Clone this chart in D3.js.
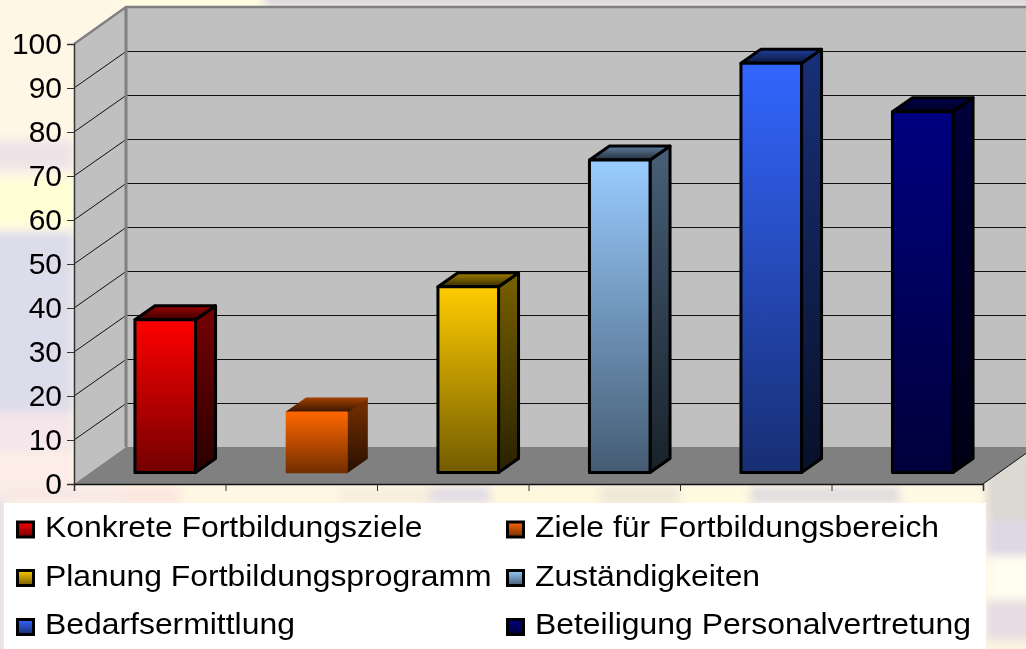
<!DOCTYPE html>
<html>
<head>
<meta charset="utf-8">
<title>Fortbildung</title>
<script src="https://cdnjs.cloudflare.com/ajax/libs/d3/7.8.5/d3.min.js"></script>
<style>
  html, body { margin: 0; padding: 0; background: #fff8e8; overflow: hidden; }
  svg { display: block; font-family: "Liberation Sans", Arial, sans-serif; filter: blur(0.4px); }
</style>
</head>
<body>
<svg id="chart" width="1026" height="649"></svg>
<script>
var categories = [
  "Konkrete Fortbildungsziele", "Ziele für Fortbildungsbereich",
  "Planung Fortbildungsprogramm", "Zuständigkeiten",
  "Bedarfsermittlung", "Beteiligung Personalvertretung"
];
var values = [34.7, 13.7, 42.2, 71, 93, 82];
var colors = ["#ff0000", "#ff6600", "#ffcc00", "#99ccff", "#3366ff", "#000080"];
var outlined = [true, false, true, true, true, true];
var yTicks = [0, 10, 20, 30, 40, 50, 60, 70, 80, 90, 100];

var svg = d3.select("#chart");
var defs = svg.append("defs");

// Plot box, front edge of the floor
var x0 = 74, x1 = 983, y0 = 484, y100 = 44;
var depthX = 52, depthY = -37;     // wall depth
var barDX = 20, barDY = -14;       // bar depth
var barInsetX = 15.5, barInsetY = -11.5;

var x = d3.scaleBand().domain(categories).range([x0, x1]).paddingInner(0.6).paddingOuter(0.3);
var xEdges = d3.scaleLinear().domain([0, categories.length]).range([x0, x1]);
var y = d3.scaleLinear().domain([0, 100]).range([y0, y100]);

/************************************************************************
  Background: the slide behind the chart is a blurry pastel picture, only
  seen around the plot. Rough patches, blurred together.
************************************************************************/
var bgPatches = [
  [-20, -20, 1066, 689, "#fff6e6"],
  [-20, -20, 150, 150, "#fff7e6"],
  [120, -20, 140, 28, "#fffde0"],
  [265, -20, 781, 28, "#dcd8e0"],
  [-20, 140, 94, 30, "#eee4e8"],
  [-20, 178, 94, 48, "#ffffd6"],
  [-20, 232, 94, 180, "#dcdcea"],
  [-20, 412, 94, 40, "#f4e6ea"],
  [-20, 452, 94, 50, "#fceee6"],
  [0, 487, 120, 16, "#f8e8e6"],
  [120, 487, 60, 16, "#fbe6e0"],
  [180, 487, 160, 16, "#fff6e2"],
  [340, 487, 90, 16, "#f8eedc"],
  [430, 487, 60, 16, "#e0dce6"],
  [490, 487, 110, 16, "#fff8dc"],
  [600, 487, 80, 16, "#ece6d4"],
  [680, 487, 70, 16, "#fdfce0"],
  [750, 487, 150, 16, "#e0dce0"],
  [900, 487, 86, 16, "#fdfce2"],
  [986, 450, 60, 70, "#dcd8d2"],
  [986, 520, 60, 36, "#dcd8e6"],
  [990, 556, 56, 44, "#fefff0"],
  [986, 600, 60, 40, "#e6dce2"],
  [986, 640, 60, 29, "#fbf4e0"],
  [-20, 500, 24, 169, "#e0dce8"]
];
defs.append("filter").attr("id", "soft")
  .attr("x", "-5%").attr("y", "-5%").attr("width", "110%").attr("height", "110%")
  .append("feGaussianBlur").attr("stdDeviation", 5);

svg.append("g").attr("filter", "url(#soft)")
  .selectAll("rect")
  .data(bgPatches)
  .enter().append("rect")
  .attr("x", function (d) { return d[0]; })
  .attr("y", function (d) { return d[1]; })
  .attr("width", function (d) { return d[2]; })
  .attr("height", function (d) { return d[3]; })
  .attr("fill", function (d) { return d[4]; });

// Walls and floor
var walls = svg.append("g");
function pts(list) {
  return list.map(function (p) { return p.join(","); }).join(" ");
}
walls.append("polygon")
  .attr("points", pts([[x0, y(100)], [x0 + depthX, y(100) + depthY], [x0 + depthX, y0 + depthY], [x0, y0]]))
  .attr("fill", "#c0c0c0");
walls.append("polygon")
  .attr("points", pts([[x0 + depthX, y(100) + depthY], [1026, y(100) + depthY], [1026, y0 + depthY], [x0 + depthX, y0 + depthY]]))
  .attr("fill", "#c0c0c0");
walls.append("polygon")
  .attr("points", pts([[x0, y0], [x1, y0], [x1 + depthX, y0 + depthY], [x0 + depthX, y0 + depthY]]))
  .attr("fill", "#808080");

// Grid lines run along the side wall, then across the back wall
var grid = yTicks.filter(function (d) { return d > 0 && d < 100; });
walls.selectAll("polyline.grid")
  .data(grid)
  .enter().append("polyline")
  .attr("class", "grid")
  .attr("fill", "none")
  .attr("stroke", "#111")
  .attr("stroke-width", 1)
  .attr("points", function (d) {
    return pts([[x0, y(d)], [x0 + depthX, y(d) + depthY + 0.5], [1026, y(d) + depthY + 0.5]]);
  });

// Wall edges in grey
walls.append("polyline")
  .attr("fill", "none")
  .attr("stroke", "#808080")
  .attr("stroke-width", 2.4)
  .attr("points", pts([[x0, y(100)], [x0 + depthX, y(100) + depthY], [1026, y(100) + depthY]]));
walls.append("line")
  .attr("x1", x0 + depthX).attr("x2", x0 + depthX)
  .attr("y1", y(100) + depthY).attr("y2", y0 + depthY)
  .attr("stroke", "#808080").attr("stroke-width", 3);
walls.append("line")
  .attr("x1", x1).attr("y1", y0)
  .attr("x2", x1 + depthX).attr("y2", y0 + depthY)
  .attr("stroke", "#111").attr("stroke-width", 1);

// Gradients, one set per category
function shade(c, k) {
  var r = d3.rgb(c);
  return d3.rgb(r.r * k, r.g * k, r.b * k).formatHex();
}
function addGradient(id, top, bottom) {
  var g = defs.append("linearGradient").attr("id", id)
    .attr("x1", 0).attr("y1", 0).attr("x2", 0).attr("y2", 1);
  g.append("stop").attr("offset", "0%").attr("stop-color", top);
  g.append("stop").attr("offset", "100%").attr("stop-color", bottom);
}
categories.forEach(function (c, i) {
  addGradient("front" + i, colors[i], shade(colors[i], 0.45));
  addGradient("side" + i, shade(colors[i], 0.47), shade(colors[i], 0.16));
  addGradient("cap" + i, shade(colors[i], 0.62), shade(colors[i], 0.22));
});

// Bars
function barLeft(d) { return x(d.name) + barInsetX; }
function barBase() { return y0 + barInsetY; }
function barTop(d) { return y(d.value) + barInsetY; }

var barData = categories.map(function (name, i) {
  return { name: name, value: values[i], i: i };
});
// Outlined bars get black edges, the others an edge in the colour of the face
function edge(face) {
  return function (d) {
    return outlined[d.i] ? "#000" : "url(#" + face + d.i + ")";
  };
}

var bars = svg.append("g").selectAll("g.bar")
  .data(barData)
  .enter().append("g")
  .attr("class", "bar")
  .attr("stroke-width", function (d) { return outlined[d.i] ? 3 : 1.5; })
  .attr("stroke-linejoin", "round");

bars.append("polygon")
  .attr("fill", function (d) { return "url(#side" + d.i + ")"; })
  .attr("stroke", edge("side"))
  .attr("points", function (d) {
    var r = barLeft(d) + x.bandwidth();
    return pts([[r, barTop(d)], [r + barDX, barTop(d) + barDY], [r + barDX, barBase() + barDY], [r, barBase()]]);
  });
bars.append("polygon")
  .attr("fill", function (d) { return "url(#cap" + d.i + ")"; })
  .attr("stroke", edge("cap"))
  .attr("points", function (d) {
    var l = barLeft(d), r = l + x.bandwidth();
    return pts([[l, barTop(d)], [l + barDX, barTop(d) + barDY], [r + barDX, barTop(d) + barDY], [r, barTop(d)]]);
  });
bars.append("rect")
  .attr("fill", function (d) { return "url(#front" + d.i + ")"; })
  .attr("stroke", edge("front"))
  .attr("x", barLeft)
  .attr("y", barTop)
  .attr("width", x.bandwidth())
  .attr("height", function (d) { return barBase() - barTop(d); });

// Axes
var yAxis = svg.append("g")
  .attr("transform", "translate(" + x0 + ",0)")
  .call(d3.axisLeft(y).tickValues(yTicks).tickSize(7).tickPadding(5));
var xAxis = svg.append("g")
  .attr("transform", "translate(0," + y0 + ")")
  .call(d3.axisBottom(xEdges).tickValues(d3.range(categories.length + 1)).tickSize(7).tickFormat(""));

yAxis.select(".domain").attr("stroke", "#333").attr("stroke-width", 1.5);
yAxis.selectAll(".tick line").attr("stroke", "#333").attr("stroke-width", 1);
yAxis.selectAll(".tick text")
  .attr("fill", "#000")
  .style("font-family", '"Liberation Sans", Arial, sans-serif')
  .style("font-size", "30px");
xAxis.select(".domain").attr("stroke", "#111").attr("stroke-width", 1.5);
xAxis.selectAll(".tick line").attr("stroke", "#333").attr("stroke-width", 1);

// Legend
var legendX = [16, 506], swatchY = [529.5, 578, 627], baseY = [537, 586, 634];
svg.append("rect")
  .attr("x", 4).attr("y", 503).attr("width", 982).attr("height", 146)
  .attr("fill", "#fff");

var legend = svg.append("g").selectAll("g.legend")
  .data(barData)
  .enter().append("g")
  .attr("class", "legend");
legend.append("rect")
  .attr("x", function (d) { return legendX[d.i % 2] + 1.5; })
  .attr("y", function (d) { return swatchY[Math.floor(d.i / 2)] - 7.5; })
  .attr("width", 16).attr("height", 15)
  .attr("fill", function (d) { return "url(#front" + d.i + ")"; })
  .attr("stroke", "#000").attr("stroke-width", 3);
// The text in the picture is stretched sideways
legend.append("text")
  .attr("transform", function (d) {
    return "translate(" + (legendX[d.i % 2] + 29) + "," + baseY[Math.floor(d.i / 2)] + ") scale(1.1,1)";
  })
  .attr("font-size", 29)
  .attr("fill", "#000")
  .text(function (d) { return d.name; });
</script>
</body>
</html>
